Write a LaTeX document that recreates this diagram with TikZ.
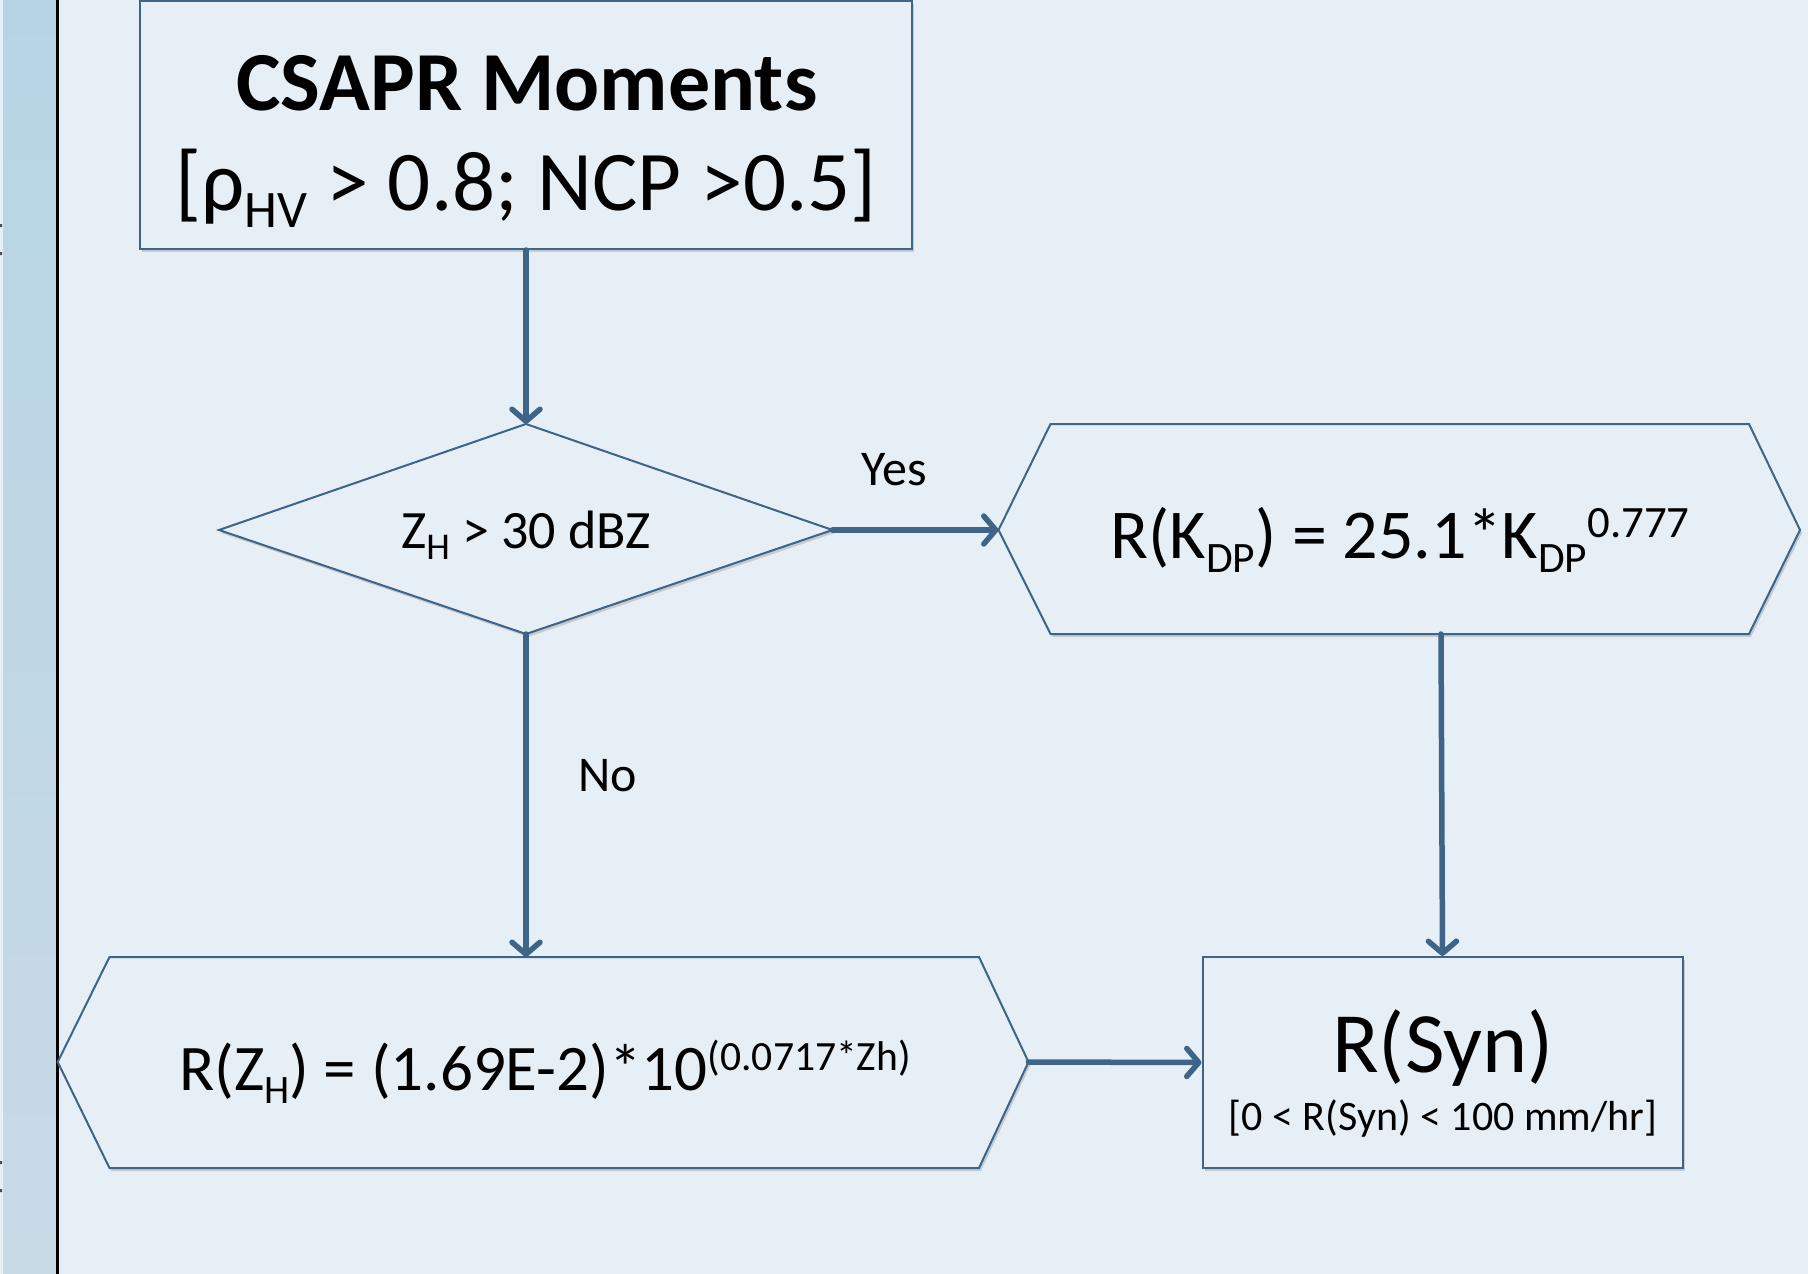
\documentclass[tikz,border=0pt]{standalone}
\usepackage{fontspec}
\setmainfont{Carlito}
\usetikzlibrary{arrows.meta,shadows}
\definecolor{bg}{RGB}{230,238,246}
\definecolor{edge}{RGB}{62,100,136}
\definecolor{stripA}{RGB}{182,213,228}
\definecolor{stripB}{RGB}{200,217,230}
\newcommand\dn[1]{\raisebox{-0.2em}{\scalebox{0.62}{#1}}}
\newcommand\dnb[1]{\raisebox{-0.22em}{\scalebox{0.7}{#1}}}
\newcommand\up[1]{\raisebox{0.3em}{\scalebox{0.64}{#1}}}
\begin{document}
\begin{tikzpicture}[x=1pt,y=-1pt,
  shape line/.style={draw=edge, line width=2pt, fill=bg,
    drop shadow={shadow xshift=2pt, shadow yshift=-3pt, opacity=0.25, fill=black!60}},
  box/.style={shape line, rectangle, inner sep=0pt},
  conn/.style={draw=edge, line width=5.5pt, line cap=round,
    -{Straight Barb[length=12pt,width=28pt,round]}},
  txt/.style={anchor=base, inner sep=0pt, text=black},
  lbl/.style={anchor=center, inner sep=0pt, text=black, font=\fontsize{50}{56}\selectfont}]
\useasboundingbox (0,0) rectangle (1808,1274);
\fill[bg] (0,0) rectangle (1808,1274);
\shade[top color=stripA, bottom color=stripB] (3,0) rectangle (56,1274);
\draw[black, line width=2.5pt] (57.5,0) -- (57.5,1274);
\fill[black!70] (0,224) rectangle (2,227) (0,252) rectangle (2,255) (0,1161) rectangle (2,1164) (0,1189) rectangle (2,1192);

% top box
\node[box, minimum width=772pt, minimum height=248pt] (top) at (526,125) {};
\node[txt, font=\fontsize{84}{90}\selectfont\bfseries] (t1) at (527,110) {CSAPR Moments};
\node[txt, font=\fontsize{85}{90}\selectfont] (t2) at (526,210) {[ρ\dn{HV} > 0.8; NCP >0.5]};

% diamond
\coordinate (dN) at (526,424);
\coordinate (dE) at (832.5,530);
\coordinate (dS) at (526,634);
\coordinate (dW) at (219,530);
\path[shape line] (dN) -- (dE) -- (dS) -- (dW) -- cycle;
\node[txt, font=\fontsize{54}{60}\selectfont] (dt) at (526,548) {Z\dnb{H} > 30 dBZ};

% right hexagon
\coordinate (kW) at (998.5,530);
\coordinate (kE) at (1800,530);
\coordinate (kS) at (1441,634);
\path[shape line] (kW) -- (1050.5,424) -- (1749,424) -- (kE) -- (1749,634) -- (1050.5,634) -- cycle;
\node[txt, font=\fontsize{70}{78}\selectfont] (kt) at (1400,558) {R(K\dn{DP}) = 25.1*K\dn{DP}\up{0.777}};

% bottom-left hexagon
\coordinate (zW) at (57.7,1062);
\coordinate (zE) at (1028.5,1062);
\coordinate (zN) at (526,957);
\path[shape line] (zW) -- (109.5,957) -- (979,957) -- (zE) -- (979,1168) -- (109.5,1168) -- cycle;
\node[txt, font=\fontsize{65}{72}\selectfont] (zt) at (545,1090) {R(Z\dn{H}) = (1.69E-2)*10\up{(0.0717*Zh)}};

% result box
\node[box, minimum width=480pt, minimum height=211pt] (syn) at (1442.5,1062.5) {};
\node[txt, font=\fontsize{86}{92}\selectfont] (st) at (1443,1072) {R(Syn)};
\node[txt, font=\fontsize{42}{48}\selectfont] (sr) at (1443,1130) {[0 < R(Syn) < 100 mm/hr]};

% connectors
\draw[conn] (top.south) -- (dN);
\draw[conn] (dE) -- (kW);
\draw[conn] (dS) -- (zN);
\draw[conn] (kS) -- (syn.north);
\draw[conn] (zE) -- (syn.west);

\node[lbl] (yes) at (894,470) {Yes};
\node[lbl] (no) at (608,776) {No};
\end{tikzpicture}
\end{document}
